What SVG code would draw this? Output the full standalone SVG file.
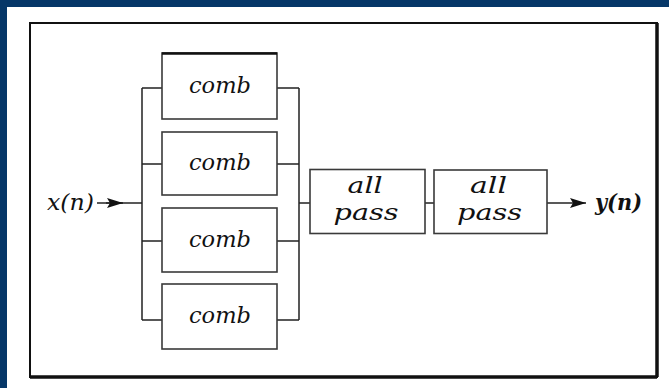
<svg xmlns="http://www.w3.org/2000/svg" width="669" height="388" viewBox="0 0 669 388">
<defs>
<style>
.box{fill:#fff;stroke:#3a3a3a;stroke-width:1.6}
.ln{fill:none;stroke:#222;stroke-width:1.5}
.t{font-family:'DejaVu Serif',serif;font-style:italic;font-size:22px;fill:#111;text-anchor:middle}
</style>
<marker id="ah2" viewBox="0 0 16 10" refX="16" refY="5" markerWidth="16" markerHeight="10" markerUnits="userSpaceOnUse" orient="auto">
<path d="M0,0 L16,5 L0,10 L3,5 z" fill="#111"/>
</marker>
</defs>
<rect x="0" y="0" width="669" height="388" fill="#063768"/>
<rect x="7" y="7" width="662" height="381" fill="#fff"/>
<g id="frame">
<path d="M30,23 H657 V377 H30 Z" fill="none" stroke="#111" stroke-width="2"/>
<path d="M657,23 V377 M30,377 H657" fill="none" stroke="#111" stroke-width="3.5"/>
</g>
<g id="connectors">
<path class="ln" d="M142,88 V320 M299,88 V320"/>
<path class="ln" d="M142,88 H162 M142,164 H162 M142,241 H162 M142,320 H162"/>
<path class="ln" d="M277,88 H299 M277,164 H299 M277,241 H299 M277,320 H299"/>
<path class="ln" d="M97,203 H142"/>
<path class="ln" d="M106,203 H123" marker-end="url(#ah2)"/>
<path class="ln" d="M299,203 H310 M425,203 H434"/>
<path class="ln" d="M547,203 H586" marker-end="url(#ah2)"/>
</g>
<g id="comb1">
<rect class="box" x="162" y="53" width="115" height="66"/>
<path d="M162,53.5 H277" stroke="#111" stroke-width="2.5"/>
<text class="t" x="220" y="93" textLength="62" lengthAdjust="spacingAndGlyphs">comb</text>
</g>
<g id="comb2">
<rect class="box" x="162" y="132" width="115" height="63"/>
<text class="t" x="220" y="170" textLength="62" lengthAdjust="spacingAndGlyphs">comb</text>
</g>
<g id="comb3">
<rect class="box" x="162" y="208" width="115" height="64"/>
<text class="t" x="220" y="247" textLength="62" lengthAdjust="spacingAndGlyphs">comb</text>
</g>
<g id="comb4">
<rect class="box" x="162" y="284" width="115" height="65"/>
<text class="t" x="220" y="323" textLength="62" lengthAdjust="spacingAndGlyphs">comb</text>
</g>
<g id="allpass1">
<rect class="box" x="310" y="169.5" width="115" height="64"/>
<text class="t" x="365" y="193" textLength="35" lengthAdjust="spacingAndGlyphs">all</text>
<text class="t" x="366" y="220" textLength="65" lengthAdjust="spacingAndGlyphs">pass</text>
</g>
<g id="allpass2">
<rect class="box" x="434" y="170" width="113" height="63.5"/>
<text class="t" x="488.5" y="193" textLength="37" lengthAdjust="spacingAndGlyphs">all</text>
<text class="t" x="489.5" y="220" textLength="65" lengthAdjust="spacingAndGlyphs">pass</text>
</g>
<g id="input">
<text class="t" x="70.5" y="210" textLength="47" lengthAdjust="spacingAndGlyphs">x(n)</text>
</g>
<g id="output">
<text class="t" x="618.5" y="210" textLength="47" lengthAdjust="spacingAndGlyphs" font-weight="bold">y(n)</text>
</g>
</svg>
